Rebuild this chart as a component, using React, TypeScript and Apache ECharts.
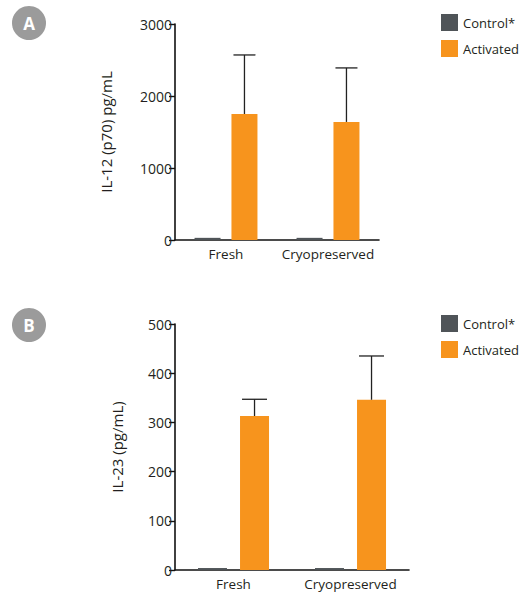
import React, { useEffect, useRef } from "react";
import * as echarts from "echarts";

const categories = ["Fresh", "Cryopreserved"];
const il12Control = [30, 30];
const il12Activated = [1750, 1640];
const il12ActivatedSd = [820, 750];
const il23Control = [4, 4];
const il23Activated = [313, 346];
const il23ActivatedSd = [34, 89];
const il12Ticks = [0, 1000, 2000, 3000];
const il23Ticks = [0, 100, 200, 300, 400, 500];

const FONT = "Open Sans";
const TEXT = "#231f20";
const GRAY = "#4f5458";
const ORANGE = "#f7941d";

function errRender(barW: number, gapRatio: number) {
  return (params: any, api: any) => {
    const base = api.coord([api.value(0), api.value(1)]);
    const top = api.coord([api.value(0), api.value(2)]);
    const off = (barW + barW * gapRatio) / 2;
    const cx = base[0] + off;
    const half = barW / 2 - 2;
    return {
      type: "group",
      children: [
        { type: "line", shape: { x1: cx, y1: base[1], x2: cx, y2: top[1] }, style: { stroke: "#222", lineWidth: 1.3 } },
        { type: "line", shape: { x1: cx - half, y1: top[1], x2: cx + half, y2: top[1] }, style: { stroke: "#222", lineWidth: 1.3 } },
      ],
    };
  };
}

export default function App() {
  const ref = useRef<HTMLDivElement>(null);
  useEffect(() => {
    const chart = echarts.init(ref.current!, null, { renderer: "svg" });
    const axisY = (idx: number, max: number, interval: number, name: string, gap: number) => ({
      type: "value",
      gridIndex: idx,
      min: 0,
      max,
      interval,
      name,
      nameLocation: "middle",
      nameGap: gap,
      nameTextStyle: { fontFamily: FONT, fontSize: 15, color: TEXT },
      axisLine: { show: true, lineStyle: { color: "#111", width: 1.6 } },
      axisTick: { show: true, length: 6, lineStyle: { color: "#111", width: 1.4 } },
      axisLabel: { fontFamily: FONT, fontSize: 14, color: TEXT, margin: 3, formatter: (v: number) => String(v) },
      splitLine: { show: false },
    });
    const axisX = (idx: number) => ({
      type: "category",
      gridIndex: idx,
      data: categories,
      axisLine: { lineStyle: { color: "#111", width: 1.6 } },
      axisTick: { alignWithLabel: true, length: 6, lineStyle: { color: "#111", width: 1.4 } },
      axisLabel: { fontFamily: FONT, fontSize: 13.5, color: TEXT, margin: 7, interval: 0 },
    });
    const legend = (top: number) => ({
      orient: "vertical",
      left: 436,
      top,
      icon: "rect",
      itemWidth: 17,
      itemHeight: 17,
      itemGap: 9,
      data: ["Control*", "Activated"],
      textStyle: { fontFamily: FONT, fontSize: 13, color: TEXT },
      selectedMode: false,
    });
    chart.setOption({
      animation: false,
      grid: [
        { left: 175, top: 24, width: 204, height: 216 },
        { left: 175, top: 324, width: 234, height: 246 },
      ],
      legend: [legend(9), legend(310)],
      xAxis: [axisX(0), axisX(1)],
      yAxis: [
        axisY(0, il12Ticks[il12Ticks.length - 1], il12Ticks[1] - il12Ticks[0], "IL-12 (p70) pg/mL", 62),
        axisY(1, il23Ticks[il23Ticks.length - 1], il23Ticks[1] - il23Ticks[0], "IL-23 (pg/mL)", 51),
      ],
      graphic: [
        { type: "circle", shape: { cx: 29, cy: 23, r: 17 }, style: { fill: "#9b9b9b" } },
        { type: "text", x: 29, y: 23, style: { text: "A", fill: "#fff", font: `bold 17px '${FONT}'`, align: "center", verticalAlign: "middle" } },
        { type: "circle", shape: { cx: 29, cy: 325, r: 17 }, style: { fill: "#9b9b9b" } },
        { type: "text", x: 29, y: 325, style: { text: "B", fill: "#fff", font: `bold 17px '${FONT}'`, align: "center", verticalAlign: "middle" } },
      ],
      series: [
        { name: "Control*", type: "bar", xAxisIndex: 0, yAxisIndex: 0, data: il12Control, barWidth: 26, barGap: "42%", itemStyle: { color: GRAY } },
        { name: "Activated", type: "bar", xAxisIndex: 0, yAxisIndex: 0, data: il12Activated, barWidth: 26, barGap: "42%", itemStyle: { color: ORANGE } },
        {
          type: "custom", xAxisIndex: 0, yAxisIndex: 0, z: 5,
          renderItem: errRender(26, 0.42),
          data: il12Activated.map((v, i) => [i, v, v + il12ActivatedSd[i]]),
        },
        { name: "Control*", type: "bar", xAxisIndex: 1, yAxisIndex: 1, data: il23Control, barWidth: 29, barGap: "45%", itemStyle: { color: GRAY } },
        { name: "Activated", type: "bar", xAxisIndex: 1, yAxisIndex: 1, data: il23Activated, barWidth: 29, barGap: "45%", itemStyle: { color: ORANGE } },
        {
          type: "custom", xAxisIndex: 1, yAxisIndex: 1, z: 5,
          renderItem: errRender(29, 0.45),
          data: il23Activated.map((v, i) => [i, v, v + il23ActivatedSd[i]]),
        },
      ],
    });
    return () => chart.dispose();
  }, []);
  return <div ref={ref} style={{ position: "absolute", left: 0, top: 0, width: 527, height: 596 }} />;
}
